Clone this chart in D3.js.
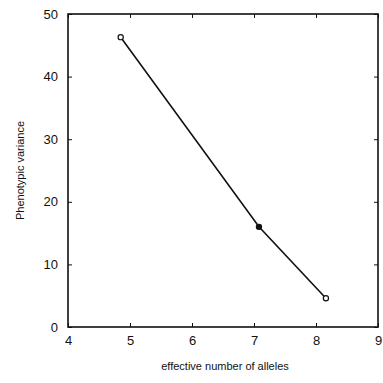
<!DOCTYPE html>
<html>
<head>
<meta charset="utf-8">
<script src="https://cdn.jsdelivr.net/npm/d3@7"></script>
<style>
  body { margin: 0; background: #fff; }
  text { font-family: "Liberation Sans", Arial, sans-serif; fill: #111; }
</style>
</head>
<body>
<div id="chart"></div>
<script>
const alleles = [4.85, 7.08, 8.16]
const variance = [46.3, 16.0, 4.6]
const filled = [false, true, false]
const xTicks = [4, 5, 6, 7, 8, 9]
const yTicks = [0, 10, 20, 30, 40, 50]

const W = 383, H = 383
const M = { TOP: 14, RIGHT: 5, BOTTOM: 56, LEFT: 68 }

const svg = d3.select("#chart").append("svg")
    .attr("width", W)
    .attr("height", H)

const x = d3.scaleLinear().domain([4, 9]).range([M.LEFT, W - M.RIGHT])
const y = d3.scaleLinear().domain([0, 50]).range([H - M.BOTTOM, M.TOP])

// frame
svg.append("rect")
    .attr("x", x(4)).attr("y", y(50))
    .attr("width", x(9) - x(4)).attr("height", y(0) - y(50))
    .attr("fill", "none").attr("stroke", "#111").attr("stroke-width", 1.6)

// inward ticks on all four sides
const tk = 4
svg.append("g").attr("transform", `translate(0,${y(0)})`)
    .call(d3.axisBottom(x).tickValues(xTicks).tickSize(-tk).tickPadding(9).tickFormat(d3.format("d")))
    .call(g => g.select(".domain").remove())
svg.append("g").attr("transform", `translate(0,${y(50)})`)
    .call(d3.axisTop(x).tickValues(xTicks).tickSize(-tk).tickFormat(""))
    .call(g => g.select(".domain").remove())
svg.append("g").attr("transform", `translate(${x(4)},0)`)
    .call(d3.axisLeft(y).tickValues(yTicks).tickSize(-tk).tickPadding(10))
    .call(g => g.select(".domain").remove())
svg.append("g").attr("transform", `translate(${x(9)},0)`)
    .call(d3.axisRight(y).tickValues(yTicks).tickSize(-tk).tickFormat(""))
    .call(g => g.select(".domain").remove())

svg.selectAll(".tick line").attr("stroke", "#111")
svg.selectAll(".tick text").style("font-size", "13px").attr("fill", "#111")

// line
const pts = alleles.map((a, i) => [a, variance[i]])
svg.append("path")
    .datum(pts)
    .attr("d", d3.line().x(d => x(d[0])).y(d => y(d[1])))
    .attr("fill", "none").attr("stroke", "#111").attr("stroke-width", 1.6)

svg.selectAll(".pt")
    .data(pts)
    .enter()
    .append("circle")
    .attr("class", "pt")
    .attr("cx", d => x(d[0]))
    .attr("cy", d => y(d[1]))
    .attr("r", 2.6)
    .attr("fill", (d, i) => filled[i] ? "#111" : "#fff")
    .attr("stroke", "#111").attr("stroke-width", 1.2)

// axis titles
svg.append("text")
    .attr("x", (x(4) + x(9)) / 2 + 2)
    .attr("y", 370)
    .attr("text-anchor", "middle")
    .style("font-size", "11px")
    .text("effective number of alleles")

svg.append("text")
    .attr("transform", `translate(24,${(y(0) + y(50)) / 2}) rotate(-90)`)
    .attr("text-anchor", "middle")
    .style("font-size", "11px")
    .text("Phenotypic variance")
</script>
</body>
</html>
